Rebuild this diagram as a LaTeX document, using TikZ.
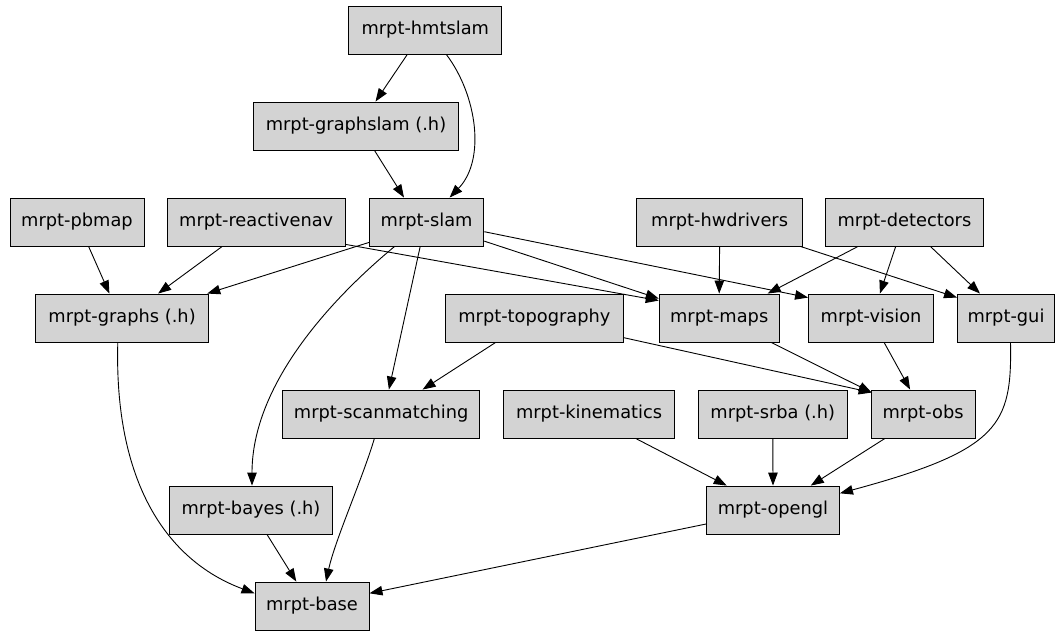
\documentclass[tikz,border=0pt]{standalone}
\usepackage{fontspec}
\newfontfamily\dejavu{DejaVu Sans}
\usetikzlibrary{arrows.meta}
\definecolor{boxfill}{HTML}{D3D3D3}
\begin{document}
\begin{tikzpicture}[x=1pt,y=-1pt,
  module/.style={draw=black, line width=0.9pt, fill=boxfill, minimum height=48pt,
    inner sep=0pt, font=\dejavu\fontsize{17.8pt}{21pt}\selectfont},
  dep/.style={draw=black, line width=0.9pt, -{Triangle[length=13pt,width=9.5pt]}}]
\useasboundingbox (0,0) rectangle (1056,631);

% modules
\node[module, minimum width=153pt]   (hmtslam)      at (425.3,30)  {mrpt-hmtslam};
\node[module, minimum width=205pt]   (graphslam)    at (356,126)   {mrpt-graphslam (.h)};
\node[module, minimum width=134pt]   (pbmap)        at (77,222)    {mrpt-pbmap};
\node[module, minimum width=178.5pt] (reactivenav)  at (256.2,222) {mrpt-reactivenav};
\node[module, minimum width=114.5pt] (slam)         at (426.6,222) {mrpt-slam};
\node[module, minimum width=165.6pt] (hwdrivers)    at (719.6,222) {mrpt-hwdrivers};
\node[module, minimum width=157.6pt] (detectors)    at (904.4,222) {mrpt-detectors};
\node[module, minimum width=173.4pt] (graphs)       at (122.1,318) {mrpt-graphs (.h)};
\node[module, minimum width=178.5pt] (topography)   at (534.4,318) {mrpt-topography};
\node[module, minimum width=120pt]   (maps)         at (719.2,318) {mrpt-maps};
\node[module, minimum width=125.2pt] (vision)       at (871.1,318) {mrpt-vision};
\node[module, minimum width=97pt]    (gui)          at (1006,318)  {mrpt-gui};
\node[module, minimum width=197.3pt] (scanmatching) at (381.2,414) {mrpt-scanmatching};
\node[module, minimum width=170.8pt] (kinematics)   at (589.1,414) {mrpt-kinematics};
\node[module, minimum width=148.8pt] (srba)         at (772.8,414) {mrpt-srba (.h)};
\node[module, minimum width=104pt]   (obs)          at (923.1,414) {mrpt-obs};
\node[module, minimum width=162.6pt] (bayes)        at (251,510)   {mrpt-bayes (.h)};
\node[module, minimum width=133pt]   (opengl)       at (773,510)   {mrpt-opengl};
\node[module, minimum width=114pt]   (base)         at (312,606)   {mrpt-base};

% dependencies
\draw[dep] ([xshift=-18pt]hmtslam.south) -- ([xshift=19.5pt]graphslam.north);
\draw[dep] ([xshift=21pt]hmtslam.south) .. controls (477,95) and (486,160) .. ([xshift=23pt]slam.north);
\draw[dep] ([xshift=18.5pt]graphslam.south) -- ([xshift=-22.6pt]slam.north);
\draw[dep] ([xshift=11.6pt]pbmap.south) -- ([xshift=-12.7pt]graphs.north);
\draw[dep] ([xshift=-34pt]reactivenav.south) -- ([xshift=36pt]graphs.north);
\draw[dep] ([yshift=4pt]slam.south west) -- ([xshift=-2pt]graphs.north east);
\draw[dep] ([yshift=2pt]reactivenav.south east) -- ([yshift=-7pt]maps.north west);
\draw[dep] ([yshift=5.3pt]slam.south east) -- ([yshift=-5pt]maps.north west);
\draw[dep] ([yshift=-9.7pt]slam.east) -- ([yshift=-4pt]vision.north west);
\draw[dep] ([xshift=-2.4pt]hwdrivers.south east) -- ([yshift=-4pt]gui.north west);
\draw[dep] (hwdrivers.south) -- (maps.north);
\draw[dep] ([xshift=-46.4pt]detectors.south) -- ([xshift=48.5pt]maps.north);
\draw[dep] ([xshift=-8.7pt]detectors.south) -- ([xshift=8.8pt]vision.north);
\draw[dep] ([xshift=26pt]detectors.south) -- ([xshift=-26pt]gui.north);
\draw[dep] ([xshift=-32pt]slam.south) .. controls (330,300) and (252,385) .. ([xshift=1pt]bayes.north);
\draw[dep] ([xshift=-6.4pt]slam.south) -- ([xshift=7.7pt]scanmatching.north);
\draw[dep] ([xshift=-38.8pt]topography.south) -- ([xshift=41.4pt]scanmatching.north);
\draw[dep] ([yshift=4.7pt]topography.south east) -- ([xshift=1pt,yshift=-3pt]obs.north west);
\draw[dep] ([xshift=52pt]maps.south) -- ([xshift=1pt,yshift=-3pt]obs.north west);
\draw[dep] ([xshift=13pt]vision.south) -- ([xshift=-13pt]obs.north);
\draw[dep] ([xshift=-4.3pt]graphs.south) .. controls (114,480) and (165,560) .. ([yshift=12.7pt]base.west);
\draw[dep] ([xshift=16pt]bayes.south) -- ([xshift=-15.7pt]base.north);
\draw[dep] ([xshift=-6.8pt]scanmatching.south) .. controls (362,480) and (335,540) .. ([xshift=14pt]base.north);
\draw[dep] ([yshift=-14pt]opengl.west) -- ([yshift=12.7pt]base.east);
\draw[dep] ([xshift=46.6pt]kinematics.south) -- ([xshift=-46.3pt]opengl.north);
\draw[dep] (srba.south) -- (opengl.north);
\draw[dep] ([xshift=-38.2pt]obs.south) -- ([xshift=37.8pt]opengl.north);
\draw[dep] ([xshift=4.5pt]gui.south) .. controls (1012,425) and (1000,450) .. ([yshift=16.7pt]opengl.east);
\end{tikzpicture}
\end{document}
